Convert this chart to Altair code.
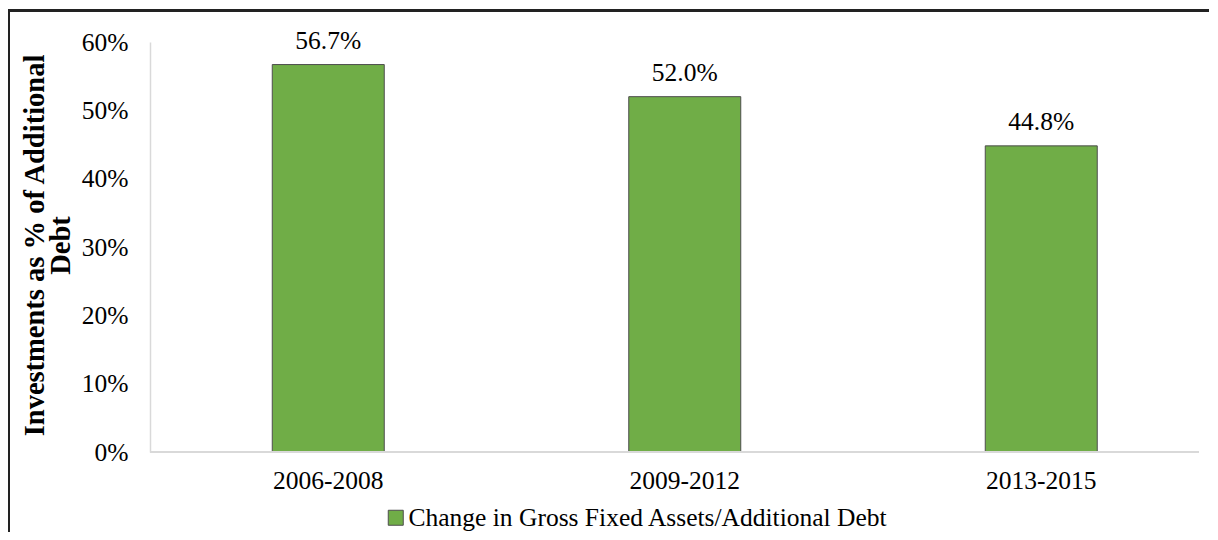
import altair as alt
import pandas as pd

periods = ["2006-2008", "2009-2012", "2013-2015"]
values = [0.567, 0.520, 0.448]
series_name = "Change in Gross Fixed Assets/Additional Debt"
y_ticks = [0, 0.1, 0.2, 0.3, 0.4, 0.5, 0.6]

df = pd.DataFrame({"period": periods, "value": values, "series": [series_name] * len(periods)})
frame_df = pd.DataFrame({"k": [0]})

FONT = "Liberation Serif"
GREEN = "#70AD47"
FS = 25.5

x_enc = alt.X(
    "period:N",
    sort=periods,
    scale=alt.Scale(range=[0, 1069.5], paddingInner=0.686, paddingOuter=0.343),
    axis=alt.Axis(
        title=None, labelAngle=0, domain=False, ticks=False, labelPadding=36,
        labelBaseline="alphabetic", labelFont=FONT, labelFontSize=FS, labelColor="#000000",
    ),
)
y_enc = alt.Y(
    "value:Q",
    scale=alt.Scale(domain=[0, 0.6], nice=False),
    axis=alt.Axis(
        title=["Investments as % of Additional", "Debt"],
        values=y_ticks, format=".0%", grid=False, ticks=False,
        domainColor="#d9d9d9", domainWidth=1.5,
        labelPadding=22, labelFont=FONT, labelFontSize=FS, labelColor="#000000",
        labelBaseline="middle",
        titleFont=FONT, titleFontSize=28.5, titleFontWeight="bold", titleColor="#000000",
        titleAngle=270, titleAlign="center", titleBaseline="alphabetic",
        titleX=-107, titleY=203, titleLineHeight=26,
    ),
)

bars = alt.Chart(df).mark_bar(size=112, stroke="#4d4d4d", strokeWidth=1).encode(
    x=x_enc,
    y=y_enc,
    color=alt.Color(
        "series:N",
        scale=alt.Scale(domain=[series_name], range=[GREEN]),
        legend=alt.Legend(
            title=None, orient="none", legendX=233, legendY=463,
            symbolType="square", symbolSize=225, symbolStrokeColor="#4d4d4d",
            symbolStrokeWidth=1, symbolFillColor=GREEN, labelFont=FONT,
            labelFontSize=FS, labelColor="#000000", labelOffset=0, padding=0,
            labelLimit=800,
        ),
    ),
)

labels = alt.Chart(df).mark_text(
    font=FONT, fontSize=FS, color="#000000", dy=-16, baseline="alphabetic"
).encode(
    x=alt.X("period:N", sort=periods),
    y="value:Q",
    text=alt.Text("value:Q", format=".1%"),
)

baseline = alt.Chart(frame_df).mark_rule(color="#d9d9d9", strokeWidth=2).encode(
    x=alt.value(0), x2=alt.value(1049), y=alt.datum(0, type="quantitative")
)

frame_left = alt.Chart(frame_df).mark_rule(color="#222222", strokeWidth=3).encode(
    x=alt.value(-141.5), y=alt.value(-33), y2=alt.value(500)
)
frame_top = alt.Chart(frame_df).mark_rule(color="#222222", strokeWidth=3).encode(
    x=alt.value(-143), x2=alt.value(1070), y=alt.value(-31.5)
)

chart = alt.layer(bars, labels, baseline, frame_left, frame_top).properties(
    width=1049,
    height=410,
    padding={"left": 142, "top": 34, "right": 10, "bottom": 80},
    autosize=alt.AutoSizeParams(type="none"),
    background="#ffffff",
).configure_view(stroke=None)

chart.save("out.html", embed_options={"renderer": "svg", "actions": False})
